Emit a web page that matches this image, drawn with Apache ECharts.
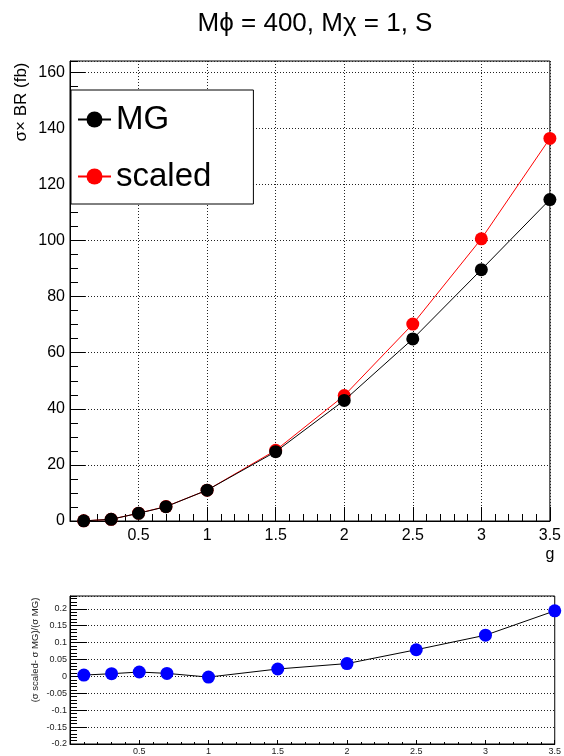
<!DOCTYPE html>
<html>
<head>
<meta charset="utf-8">
<script src="https://cdn.jsdelivr.net/npm/echarts@6/dist/echarts.min.js"></script>
<style>html,body{margin:0;padding:0;background:#fff}#c{width:564px;height:756px}</style>
</head>
<body>
<div id="c"></div>
<script>
// ---- data ----
const gValues    = [0.1, 0.3, 0.5, 0.7, 1.0, 1.5, 2.0, 2.5, 3.0, 3.5];
const mgXsec     = [0.05, 0.6, 2.75, 5.1, 11.0, 24.7, 43.0, 64.9, 89.6, 114.6];
const scaledXsec = [0.05, 0.61, 2.79, 5.15, 11.0, 25.2, 44.7, 70.2, 100.6, 136.4];
const relDiff    = [0.004, 0.008, 0.013, 0.009, -0.002, 0.022, 0.038, 0.079, 0.122, 0.194];
const seriesNames = ['MG', 'scaled'];
const titleText = 'M\u03d5 = 400, M\u03c7 = 1, S';
const yTitleTop = '\u03c3\u00d7 BR (fb)';
const yTitleBottom = '(\u03c3 scaled- \u03c3 MG)/(\u03c3 MG)';
const xTitle = 'g';

const FONT = 'Liberation Sans, Arial, Helvetica, sans-serif';
const zip = (xs, ys) => xs.map((x, i) => [x, ys[i]]);
const dotted = { show: true, lineStyle: { color: '#222', width: 1, type: [1, 2] } };

const chart = echarts.init(document.getElementById('c'), null, { renderer: 'canvas' });
chart.setOption({
  animation: false,
  backgroundColor: '#fff',
  grid: [
    { left: 70, top: 61, width: 487, height: 460, show: true, borderColor: '#000', borderWidth: 1, backgroundColor: 'transparent' },
    { left: 70, top: 596, width: 487, height: 148, show: true, borderColor: '#000', borderWidth: 1, backgroundColor: 'transparent' }
  ],
  legend: {
    orient: 'vertical', left: 71, top: 90,
    data: seriesNames,
    itemWidth: 33, itemHeight: 20, itemGap: 24,
    padding: [13, 42, 11, 6],
    borderColor: '#000', borderWidth: 1, backgroundColor: '#fff',
    textStyle: { fontSize: 33, fontFamily: FONT, color: '#000' }
  },
  xAxis: [
    {
      gridIndex: 0, type: 'value', position: 'bottom', min: 0, max: 3.5, interval: 0.5,
      axisLine: { show: true, onZero: false, lineStyle: { color: '#000', width: 1 } },
      axisTick: { show: true, inside: true, length: 14, lineStyle: { color: '#000' } },
      minorTick: { show: true, splitNumber: 5, length: 7, lineStyle: { color: '#000' } },
      splitLine: dotted,
      axisLabel: { fontSize: 16, fontFamily: FONT, color: '#000', margin: 7, showMinLabel: false }
    },
    {
      gridIndex: 1, type: 'value', position: 'bottom', min: 0, max: 3.5, interval: 0.5,
      axisLine: { show: true, onZero: false, lineStyle: { color: '#000', width: 1 } },
      axisTick: { show: true, inside: true, length: 4, lineStyle: { color: '#000' } },
      minorTick: { show: true, splitNumber: 5, length: 2, lineStyle: { color: '#000' } },
      splitLine: { show: false },
      axisLabel: { fontSize: 9, fontFamily: FONT, color: '#222', margin: 3, showMinLabel: false }
    }
  ],
  yAxis: [
    {
      gridIndex: 0, type: 'value', position: 'left', offset: 0, min: 0, max: 164, interval: 20,
      axisLine: { show: true, onZero: false, lineStyle: { color: '#000', width: 1 } },
      axisTick: { show: true, inside: true, length: 15, lineStyle: { color: '#000' } },
      splitLine: dotted,
      axisLabel: { fontSize: 16, fontFamily: FONT, color: '#000', margin: 5, showMaxLabel: false }
    },
    {
      gridIndex: 0, type: 'value', position: 'left', offset: 0, min: 0, max: 164, interval: 5,
      axisLine: { show: false, onZero: false },
      axisTick: { show: true, inside: true, length: 8, lineStyle: { color: '#000' } },
      splitLine: { show: false },
      axisLabel: { show: false }
    },
    {
      gridIndex: 1, type: 'value', position: 'left', offset: 0, min: -0.2, max: 0.238, interval: 0.05,
      axisLine: { show: true, onZero: false, lineStyle: { color: '#000', width: 1 } },
      axisTick: { show: true, inside: true, length: 17, lineStyle: { color: '#000' } },
      splitLine: dotted,
      axisLabel: { fontSize: 9, fontFamily: FONT, color: '#222', margin: 3, showMaxLabel: false }
    },
    {
      gridIndex: 1, type: 'value', position: 'left', offset: 0, min: -0.2, max: 0.238, interval: 0.01,
      axisLine: { show: false, onZero: false },
      axisTick: { show: true, inside: true, length: 7, lineStyle: { color: '#000' } },
      splitLine: { show: false },
      axisLabel: { show: false }
    }
  ],
  series: [
    {
      name: 'scaled', type: 'line', xAxisIndex: 0, yAxisIndex: 0, z: 2,
      data: zip(gValues, scaledXsec),
      symbol: 'circle', symbolSize: 13,
      itemStyle: { color: '#ff0000' },
      lineStyle: { color: '#ff0000', width: 1 }
    },
    {
      name: 'MG', type: 'line', xAxisIndex: 0, yAxisIndex: 0, z: 3,
      data: zip(gValues, mgXsec),
      symbol: 'circle', symbolSize: 13,
      itemStyle: { color: '#000000' },
      lineStyle: { color: '#000000', width: 1 }
    },
    {
      name: 'ratio', type: 'line', xAxisIndex: 1, yAxisIndex: 2, z: 3,
      data: zip(gValues, relDiff),
      symbol: 'circle', symbolSize: 13,
      itemStyle: { color: '#0000ff' },
      lineStyle: { color: '#000000', width: 1 }
    }
  ],
  graphic: [
    { type: 'text', x: 315, y: 24, z: 10,
      style: { text: titleText, fontSize: 26, fontFamily: FONT, fill: '#000', align: 'center', verticalAlign: 'middle' } },
    { type: 'text', x: 21, y: 102, rotation: Math.PI / 2, z: 10,
      style: { text: yTitleTop, fontSize: 17, fontFamily: FONT, fill: '#000', align: 'center', verticalAlign: 'middle' } },
    { type: 'text', x: 35, y: 650, rotation: Math.PI / 2, z: 10,
      style: { text: yTitleBottom, fontSize: 9.5, fontFamily: FONT, fill: '#222', align: 'center', verticalAlign: 'middle' } },
    { type: 'text', x: 550, y: 555, z: 10,
      style: { text: xTitle, fontSize: 16, fontFamily: FONT, fill: '#000', align: 'center', verticalAlign: 'middle' } }
  ]
});
</script>
</body>
</html>
